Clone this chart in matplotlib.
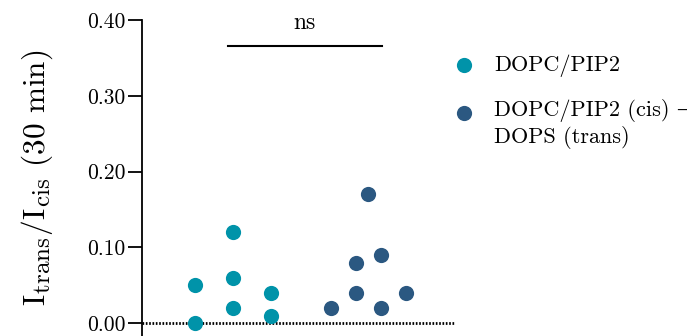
import numpy as np
import matplotlib.pyplot as plt
import matplotlib._mathtext as mathtext
from matplotlib.legend_handler import HandlerPathCollection

plt.rcParams['font.family'] = ['cmr10', 'DejaVu Serif']
plt.rcParams['mathtext.fontset'] = 'cm'
plt.rcParams['axes.unicode_minus'] = False
# the reference uses larger subscripts than mathtext's default 0.7
mathtext.SHRINK_FACTOR = 0.8

# values
labels = ['DOPC/PIP2', 'DOPC/PIP2 (cis) –\nDOPS (trans)']
pip2 = [0.05, 0.00, 0.12, 0.06, 0.02, 0.04, 0.01]
pip2_dops = [0.02, 0.08, 0.04, 0.17, 0.09, 0.02, 0.04]
yticks = [0.00, 0.10, 0.20, 0.30, 0.40]

# swarm offsets (columns) for each point
pip2_cols = [-1, -1, 0, 0, 0, 1, 1]
dops_cols = [-1.5, -0.5, -0.5, 0, 0.5, 0.5, 1.5]

c1 = '#0093a9'
c2 = '#2b5881'

fig = plt.figure(figsize=(6.99, 3.36), dpi=100)
ax = fig.add_axes([0.203, 0.0, 0.448, 0.94])

sc1 = ax.scatter(0 + np.array(pip2_cols) * 0.278, pip2, s=120, color=c1,
                 linewidths=0, label=labels[0], zorder=3, clip_on=False)
sc2 = ax.scatter(1 + np.array(dops_cols) * 0.185, pip2_dops, s=120, color=c2,
                 linewidths=0, label=labels[1], zorder=3, clip_on=False)

ax.axhline(0, color='black', lw=2, linestyle=(0, (0.6, 0.6)), zorder=1)

# significance bar
ax.plot([-0.04, 1.1], [0.366, 0.366], color='black', lw=1.5, clip_on=False)
ax.text(0.53, 0.382, 'ns', ha='center', va='bottom', fontsize=17)

ax.set_xlim(-0.674, 1.644)
ax.set_ylim(-0.017, 0.40)
ax.set_yticks(yticks)
ax.set_yticklabels(['%.2f' % v for v in yticks])
ax.tick_params(axis='y', length=10, width=1.3, labelsize=15.5, pad=2)
ax.set_xticks([])
for s in ['top', 'right', 'bottom']:
    ax.spines[s].set_visible(False)
ax.spines['left'].set_linewidth(1.3)

ax.set_ylabel(r'$\mathrm{I_{trans}/I_{cis}}$ (30 min)', fontsize=22.5, labelpad=23)

fig.legend(loc='upper left', bbox_to_anchor=(0.604, 0.897), frameon=False,
           fontsize=16, handletextpad=0.35, labelspacing=1.0,
           handler_map={sc2: HandlerPathCollection(yoffsets=[1.2])})

fig.savefig('out.png', dpi=100)
